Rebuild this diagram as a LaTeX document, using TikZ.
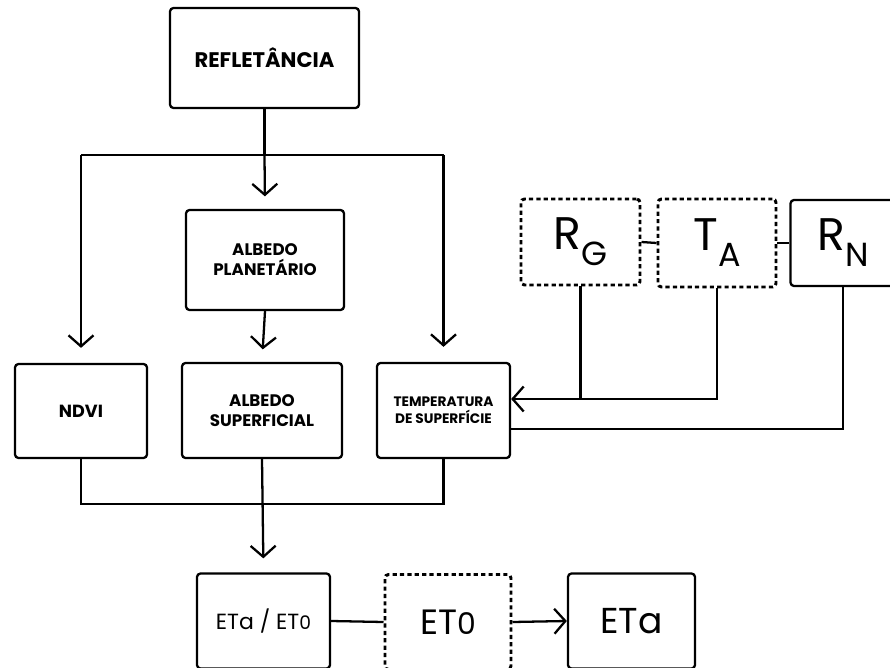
\documentclass[tikz,border=0pt]{standalone}
\usepackage{fontspec}
\setmainfont{Poppins}
\usetikzlibrary{arrows.meta,positioning}

\newcommand{\lowidx}[1]{\raisebox{-0.32cm}{\fontsize{19}{19}\selectfont #1}}
\newcommand{\smallzero}{\scalebox{0.85}{0}}

\begin{document}
\begin{tikzpicture}[
    every node/.style={font=\small},
    box/.style={draw, line width=1.3pt, rounded corners=2pt, align=center,
        minimum width=#1, minimum height=1.9cm, inner sep=2pt},
    dbox/.style={box=#1, line width=1.7pt, dash pattern=on 2.4pt off 1.8pt},
    title/.style 2 args={font=\bfseries\fontsize{#1}{#2}\selectfont},
    plain/.style={font=\fontsize{#1}{#1}\selectfont},
    link/.style={line width=1.3pt},
    flow/.style={-{Straight Barb[length=2.2mm,width=5mm]}, line width=1.3pt}
]
\useasboundingbox (0,0) rectangle (17.8,-13.36);

\node[box=3.78cm, minimum height=2cm, title={12}{14}] (refl) at (5.29,-1.16) {REFLETÂNCIA};
\node[box=3.16cm, minimum height=2cm, title={9.5}{11.5}] (albp) at (5.3,-5.2) {ALBEDO\\PLANETÁRIO};
\node[box=2.64cm, minimum height=1.88cm, title={10}{12}] (ndvi) at (1.62,-8.22) {NDVI};
\node[box=3.2cm, title={9.5}{11.5}] (albs) at (5.24,-8.21) {ALBEDO\\SUPERFICIAL};
\node[box=2.66cm, title={7.8}{9.6}] (temp) at (8.87,-8.21) {TEMPERATURA\\DE SUPERFÍCIE};

\node[dbox=2.38cm, minimum height=1.72cm, plain=26] (rg) at (11.61,-4.84) {R\lowidx{G}};
\node[dbox=2.36cm, minimum height=1.76cm, plain=26] (ta) at (14.34,-4.86) {T\lowidx{A}};
\node[box=2.1cm, minimum height=1.72cm, plain=26] (rn) at (16.86,-4.86) {R\lowidx{N}};

\node[box=2.66cm, plain=12.5] (etr) at (5.27,-12.42) {ETa / ET\smallzero};
\node[dbox=2.52cm, plain=20] (et0) at (8.96,-12.44) {ET\smallzero};
\node[box=2.54cm, plain=20.5] (eta) at (12.63,-12.42) {ETa};

\coordinate (split) at (5.29,-3.1);
\coordinate (merge) at (5.24,-10.08);
\coordinate (join) at (11,-7.98);
\coordinate (lowjoin) at (11,-8.58);

\draw[link] (refl.south) -- (split);
\draw[link] (ndvi.north |- split) -- (temp.north |- split);
\draw[flow, shorten >=0.25cm] (split) -- (albp.north);
\draw[flow, shorten >=0.3cm] (ndvi.north |- split) -- (ndvi.north);
\draw[flow, shorten >=0.3cm] (temp.north |- split) -- (temp.north);
\draw[flow, shorten >=0.25cm] (albp.south) -- (albs.north);
\draw[link] (ndvi.south) |- (merge) -| (temp.south);
\draw[flow, shorten >=0.28cm] (albs.south) -- (etr.north);

\draw[link] (rg.east) -- (ta.west);
\draw[link] (ta.east) -- (rn.west);
\draw[link] (rg.south) -- (rg.south |- join);
\draw[flow] (ta.south) |- (temp.east |- join);
\draw[link] (rn.south) |- (temp.east |- lowjoin);

\draw[link] (etr.east) -- (et0.west);
\draw[flow] (et0.east) -- (eta.west);
\end{tikzpicture}
\end{document}
